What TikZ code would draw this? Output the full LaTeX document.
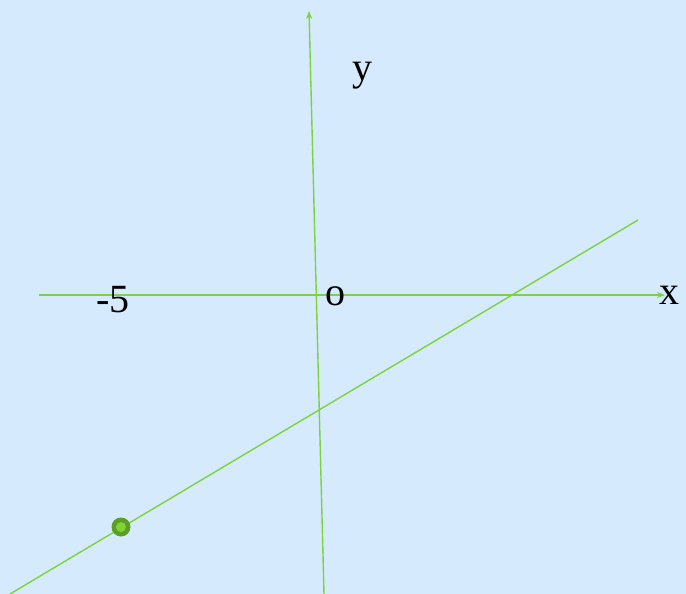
\documentclass[tikz,border=0pt]{standalone}
\usepackage{fontspec}
\setmainfont{Liberation Serif}
\usetikzlibrary{arrows.meta}
\definecolor{bg}{HTML}{D5EBFD}
\definecolor{ln}{HTML}{7ED23A}
\definecolor{dotc}{HTML}{5A9E23}
\tikzset{
  axis/.style={draw=ln, line width=1.4pt, -{Stealth[length=8pt,width=6pt]}},
  graphline/.style={draw=ln, line width=1.4pt},
  lbl/.style={font=\fontsize{40}{40}\selectfont, text=black, inner sep=0pt}
}
\begin{document}
\begin{tikzpicture}[x=1pt,y=-1pt]
\fill[bg] (0,0) rectangle (686,594);
\useasboundingbox (0,0) rectangle (686,594);
\coordinate (xs) at (39,295);
\coordinate (xe) at (665,295);
\coordinate (ys) at (324,594);
\coordinate (ye) at (309,11);
\coordinate (ls) at (10,594);
\coordinate (le) at (638,220);
\draw[axis] (xs) -- (xe);
\draw[axis] (ys) -- (ye);
\draw[graphline] (ls) -- (le);
\node[lbl] (ylab) at (362,76) {y};
\node[lbl] (xlab) at (669,295) {x};
\node[lbl] (m5) at (113,300) {-5};
\node[lbl] (o) at (335,296) {o};
\node[circle, fill=dotc, minimum size=19pt, inner sep=0pt] (pt) at (121,527) {};
\node[circle, fill=ln, minimum size=10pt, inner sep=0pt] (pti) at (pt) {};
\end{tikzpicture}
\end{document}
